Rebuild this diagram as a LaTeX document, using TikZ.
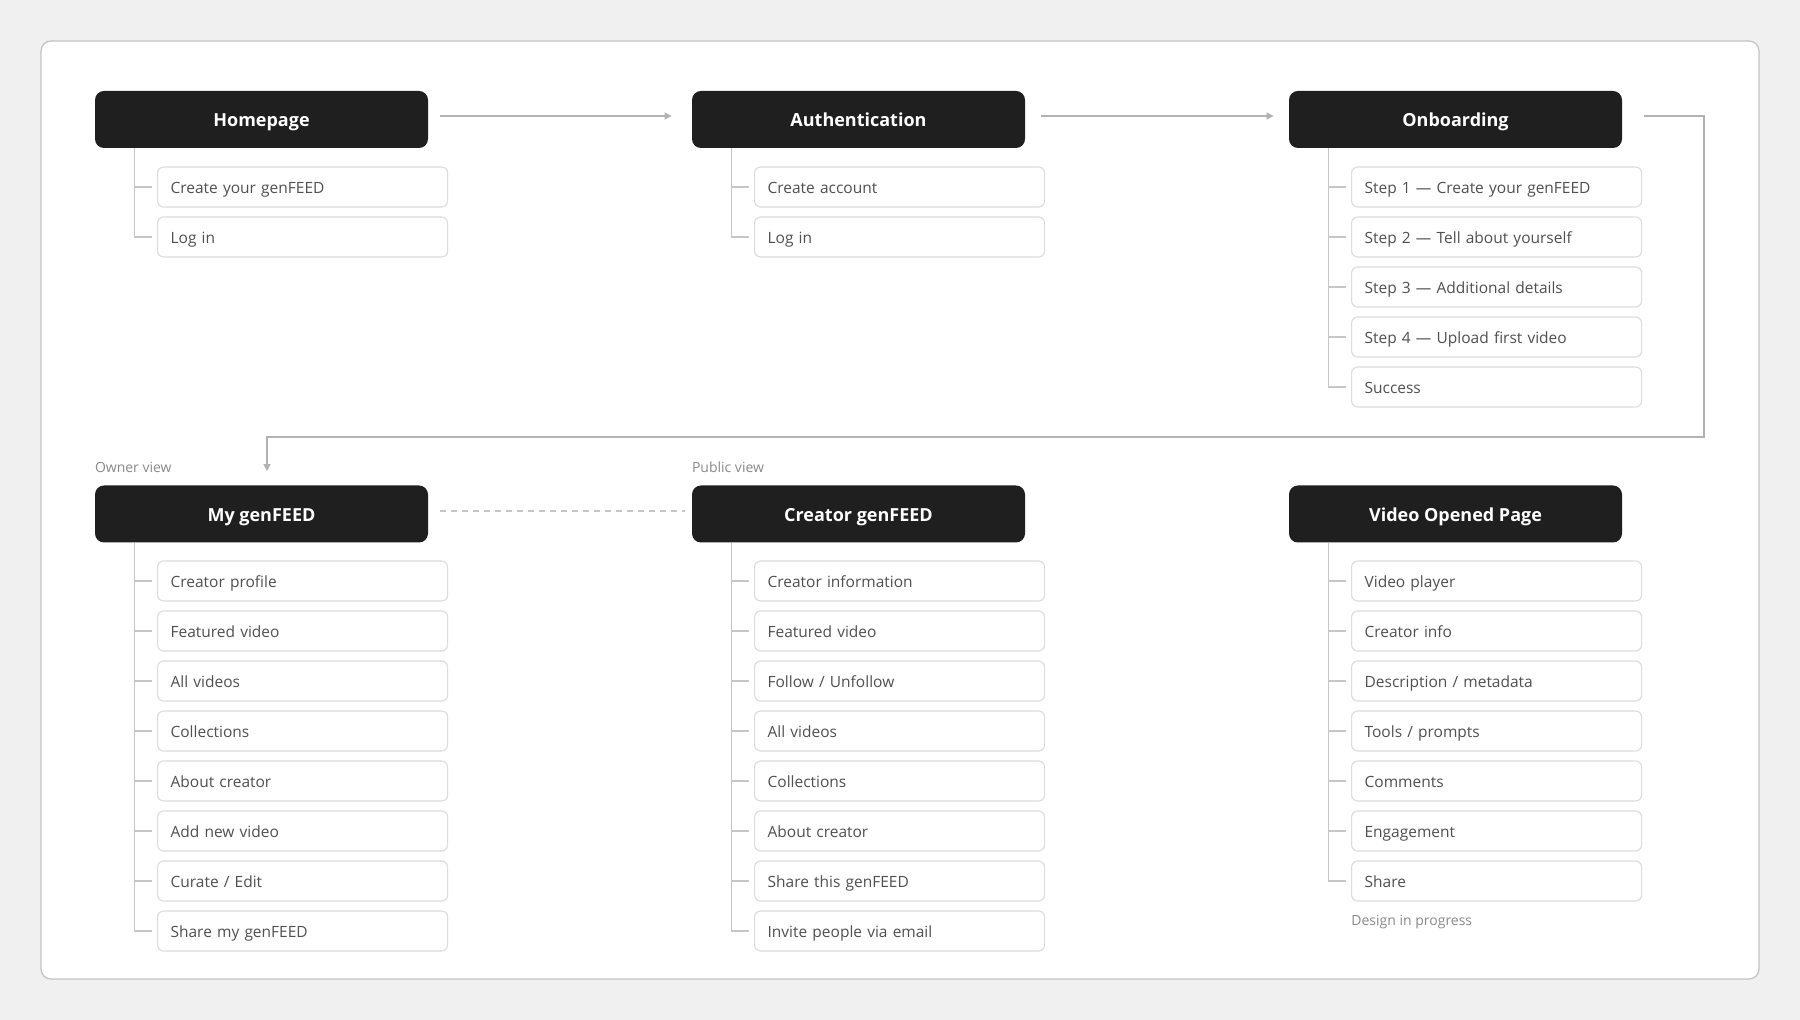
\documentclass[tikz,border=0pt]{standalone}
\usepackage{fontspec}
\setmainfont{Open Sans}
\usepackage{xcolor}
\usetikzlibrary{positioning, arrows.meta}

\definecolor{pagebg}{HTML}{F0F0F0}
\definecolor{framegray}{HTML}{C2C2C2}
\definecolor{titlebg}{HTML}{1F1F1F}
\definecolor{itemline}{HTML}{DDDDDD}
\definecolor{itemtext}{HTML}{505050}
\definecolor{treegray}{HTML}{C6C6C6}
\definecolor{notegray}{HTML}{8A8A8A}

\tikzset{
  pagetitle/.style={fill=titlebg, rounded corners=4.5pt, minimum width=166.5pt,
    minimum height=28.5pt, inner sep=0pt, text=white, text height=8pt, text depth=0.6pt,
    font=\fontsize{9}{11}\selectfont\bfseries},
  pageitem/.style={draw=itemline, line width=0.6pt, fill=white, rounded corners=3pt,
    anchor=west, text width=132pt, align=left, inner xsep=6.5pt, inner ysep=0pt,
    text height=7.2pt, text depth=0.6pt,
    minimum height=20pt, text=itemtext, font=\fontsize{7.75}{9}\selectfont},
  treeline/.style={draw=treegray, line width=0.8pt},
  flow/.style={draw=treegray!90!black, line width=0.7pt,
    -{Triangle[length=3.5pt, width=3.5pt]}},
  weaklink/.style={draw=treegray, line width=0.7pt, dash pattern=on 3pt off 2.5pt},
  note/.style={text=notegray, inner sep=0pt, anchor=west,
    font=\fontsize{7}{8}\selectfont}
}

\begin{document}
\begin{tikzpicture}[x=0.5pt, y=-0.5pt]

  % Canvas
  \fill[pagebg] (0,0) rectangle (1800,1020);
  \useasboundingbox (0,0) rectangle (1800,1020);
  \draw[framegray, line width=0.6pt, fill=white, rounded corners=5pt] (41,41) rectangle (1759,979);

  % Page titles
  \node[pagetitle] (home) at (261.5,119.5) {Homepage};
  \node[pagetitle] (auth) at (858.5,119.5) {Authentication};
  \node[pagetitle] (onb) at (1455.5,119.5) {Onboarding};
  \node[pagetitle] (mine) at (261.5,514) {My genFEED};
  \node[pagetitle] (creator) at (858.5,514) {Creator genFEED};
  \node[pagetitle] (video) at (1455.5,514) {Video Opened Page};

  % Sub-pages
  \foreach \txt [count=\i] in {Create your genFEED, Log in}
    \node[pageitem] (home-\i) at (157,{137+50*\i}) {\txt};
  \foreach \txt [count=\i] in {Create account, Log in}
    \node[pageitem] (auth-\i) at (754,{137+50*\i}) {\txt};
  \foreach \txt [count=\i] in {{Step 1 — Create your genFEED}, {Step 2 — Tell about yourself},
      {Step 3 — Additional details}, {Step 4 — Upload first video}, Success}
    \node[pageitem] (onb-\i) at (1351,{137+50*\i}) {\txt};
  \foreach \txt [count=\i] in {Creator profile, Featured video, All videos, Collections,
      About creator, Add new video, {Curate / Edit}, Share my genFEED}
    \node[pageitem] (mine-\i) at (157,{531+50*\i}) {\txt};
  \foreach \txt [count=\i] in {Creator information, Featured video, {Follow / Unfollow},
      All videos, Collections, About creator, Share this genFEED, Invite people via email}
    \node[pageitem] (creator-\i) at (754,{531+50*\i}) {\txt};
  \foreach \txt [count=\i] in {Video player, Creator info, {Description / metadata},
      {Tools / prompts}, Comments, Engagement, Share}
    \node[pageitem] (video-\i) at (1351,{531+50*\i}) {\txt};

  % Tree lines
  \foreach \col/\n in {home/2, auth/2, onb/5, mine/8, creator/8, video/7}
  {
    \draw[treeline] ([xshift=20pt]\col.south west) |- ([xshift=-2.5pt]\col-\n.west);
    \foreach \i in {1,...,\n}
      \draw[treeline] ([xshift=-11pt]\col-\i.west) -- ([xshift=-2.5pt]\col-\i.west);
  }

  % Flow between pages
  \draw[flow, shorten <=6pt, shorten >=10pt] ([yshift=1.75pt]home.east) -- ([yshift=1.75pt]auth.west);
  \draw[flow, shorten <=8pt, shorten >=7.5pt] ([yshift=1.75pt]auth.east) -- ([yshift=1.75pt]onb.west);
  \coordinate (turn) at (1704,437);
  \draw[flow] ([xshift=11pt, yshift=1.75pt]onb.east) -| (turn)
    -| ([xshift=2.75pt, yshift=7pt]mine.north);
  \draw[weaklink, shorten <=6pt, shorten >=3.5pt] ([yshift=1.5pt]mine.east) -- ([yshift=1.5pt]creator.west);

  % Notes
  \node[note] (ownernote) at ([yshift=9pt]mine.north west) {Owner view};
  \node[note] (publicnote) at ([yshift=9pt]creator.north west) {Public view};
  \node[note] (wipnote) at ([yshift=-20.5pt]video-7.west) {Design in progress};

\end{tikzpicture}
\end{document}
